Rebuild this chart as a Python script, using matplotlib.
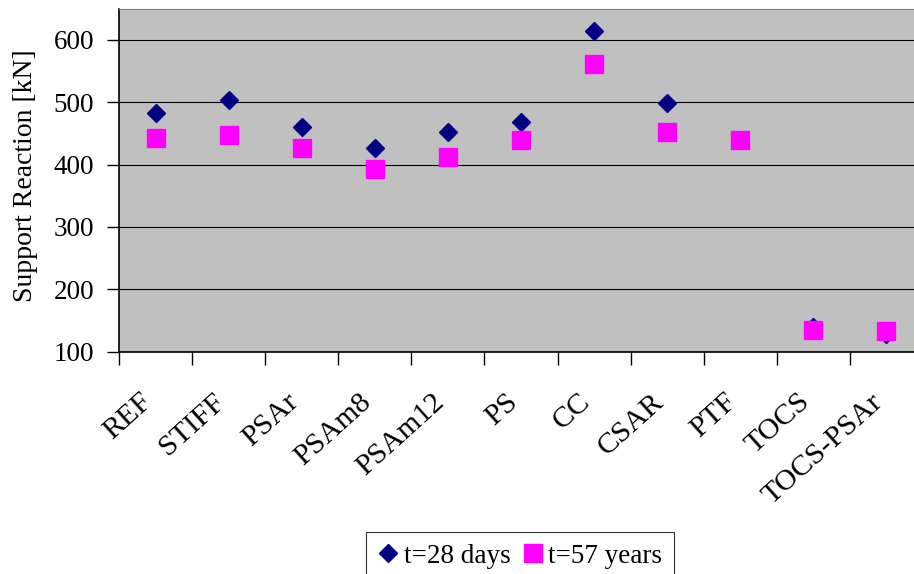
import numpy as np
import matplotlib
matplotlib.use("Agg")
import matplotlib.pyplot as plt
from matplotlib.ticker import FixedLocator, NullFormatter
from matplotlib.transforms import ScaledTranslation

plt.rcParams['font.family'] = ['Liberation Serif', 'DejaVu Serif']

# Load cases along the category axis
cases = ["REF", "STIFF", "PSAr", "PSAm8", "PSAm12", "PS", "CC",
         "CSAR", "PTF", "TOCS", "TOCS-PSAr"]

# Support reaction [kN] at the two ages
t28_days = [483, 503, 460, 426, 452, 469, 615, 498, np.nan, 139, 129]
t57_years = [442, 447, 427, 393, 413, 439, 562, 453, 439, 134, 133]

y_ticks = [100, 200, 300, 400, 500, 600]

FS = 19.5
W, H = 914, 574
fig = plt.figure(figsize=(W / 100, H / 100), dpi=100)
ax = fig.add_axes([119 / W, 1 - 351.7 / H, 804 / W, 343 / H])
ax.set_facecolor("#C0C0C0")

x = np.arange(len(cases))
ax.plot(x, t28_days, linestyle="none", marker="D", markersize=9.2,
        color="#000080", label="t=28 days", zorder=3)
ax.plot(x, t57_years, linestyle="none", marker="s", markersize=12.5,
        color="#FF00FF", label="t=57 years", zorder=4)

ax.set_xlim(-0.5, len(cases) - 0.5)
ax.set_ylim(100, 650)

ax.set_yticks(y_ticks)
ax.yaxis.grid(True, color="black", linewidth=0.8)
ax.set_axisbelow(True)
ax.tick_params(axis="y", direction="out", length=9, width=1, labelsize=FS,
               pad=9, colors="black")

# Category labels: slanted, their baseline ending just under each slot centre
ax.set_xticks(x)
ax.set_xticklabels(cases, rotation=42, ha="right", va="baseline",
                   rotation_mode="anchor", fontsize=21.5)
ax.tick_params(axis="x", which="major", length=0, pad=37.4)
shift = ScaledTranslation(-2.5 / 100, 0, fig.dpi_scale_trans)
for lab in ax.get_xticklabels():
    lab.set_transform(lab.get_transform() + shift)

# Tick marks sit on the category boundaries
ax.xaxis.set_minor_locator(FixedLocator(np.arange(-0.5, len(cases), 1.0)))
ax.xaxis.set_minor_formatter(NullFormatter())
ax.tick_params(axis="x", which="minor", direction="out", length=9, width=1)

for side in ("top", "right"):
    ax.spines[side].set_color("#808080")
for side in ("left", "bottom"):
    ax.spines[side].set_color("black")
    ax.spines[side].set_linewidth(1.2)

fig.text(25.7 / W, 1 - 176 / H, "Support Reaction [kN]", rotation=90,
         ha="center", va="center", fontsize=20)

leg = fig.legend(loc="upper center", bbox_to_anchor=(520 / W, 1 - 531.7 / H),
                 ncol=2, fontsize=FS, frameon=True, fancybox=False,
                 edgecolor="black", handlelength=0.75, handletextpad=0.2,
                 columnspacing=0.45, borderpad=0.45, borderaxespad=0)
leg.get_frame().set_linewidth(0.8)

fig.savefig("out.png", dpi=100)
